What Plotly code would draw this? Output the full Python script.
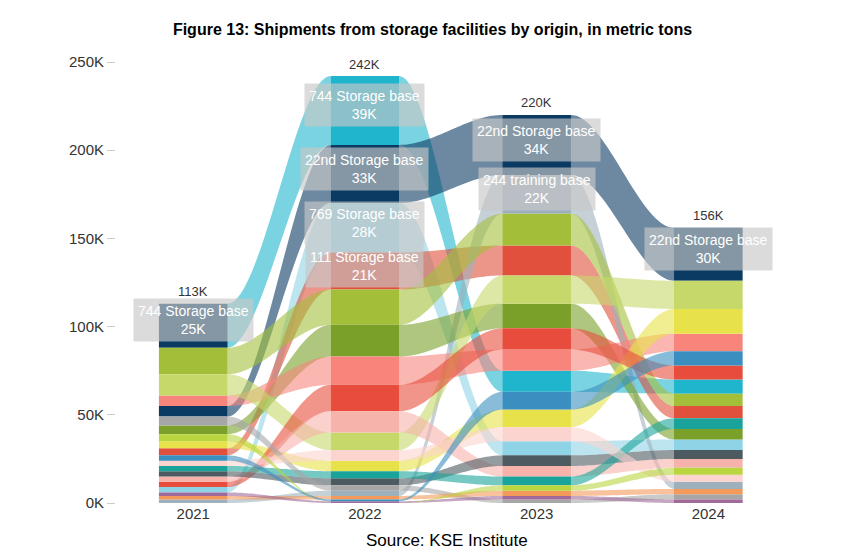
import plotly.graph_objects as go
import numpy as np

years = ["2021", "2022", "2023", "2024"]
totals_labels = ["113K", "242K", "220K", "156K"]
names = ["744 Storage base", "22nd Storage base", "769 Storage base", "111 Storage base",
         "244 training base", "Base F", "Base G", "Base H", "Base I", "Base J", "Base K",
         "Base L", "Base M", "Base N", "Base O", "Base P", "Base Q", "Base R", "Base S", "Base T"]
colors = ["#1fb5cc", "#0b3a63", "#8fd3e6", "#e0503c", "#9fb0bd", "#a3bf3a", "#7aa02a",
          "#f7857c", "#c6d86a", "#e8e24a", "#e74c3c", "#f6b3ab", "#4d5a60", "#1aa39a",
          "#a6a6a6", "#fbd3cf", "#f39a5b", "#a06a9a", "#3a8fc0", "#b9d53f"]
v2021 = [25, 6, 3, 4, 2, 15, 5, 6, 12, 4, 3, 3, 3, 3, 5, 3, 2, 2, 3, 4]
v2022 = [39, 33, 28, 21, 3, 20, 18, 16, 10, 6, 15, 12, 4, 4, 3, 6, 2, 1, 1, 0]
v2023 = [12, 34, 8, 17, 22, 18, 14, 12, 16, 10, 12, 6, 6, 5, 2, 8, 3, 2, 10, 3]
v2024 = [8, 30, 6, 7, 4, 7, 6, 10, 16, 14, 8, 5, 5, 6, 3, 4, 3, 2, 8, 4]
values = [v2021, v2022, v2023, v2024]
labelled = {0: [0], 1: [0, 1, 2, 3], 2: [1, 4], 3: [1]}
bar_colors_2021_top = "#0b3a63"

HW = 0.2
n = len(names)
seg = []
for vals in values:
    order = sorted(range(n), key=lambda i: vals[i])
    pos = {}
    base = 0
    for i in order:
        pos[i] = (base, base + vals[i])
        base += vals[i]
    seg.append(pos)

fig = go.Figure()
t = np.linspace(0, 1, 40)
s = t * t * (3 - 2 * t)
for yi in range(3):
    for i in range(n):
        a0, a1 = seg[yi][i]
        b0, b1 = seg[yi + 1][i]
        if a1 - a0 <= 0 and b1 - b0 <= 0:
            continue
        x = yi + HW + t * (1 - 2 * HW)
        lo = a0 + (b0 - a0) * s
        hi = a1 + (b1 - a1) * s
        fig.add_trace(go.Scatter(x=np.concatenate([x, x[::-1]]), y=np.concatenate([hi, lo[::-1]]),
                                 fill="toself", fillcolor=colors[i], opacity=0.6, mode="none",
                                 hoverinfo="skip", showlegend=False))
for yi in range(4):
    for i in range(n):
        a0, a1 = seg[yi][i]
        if a1 - a0 <= 0:
            continue
        c = bar_colors_2021_top if (yi == 0 and i == 0) else colors[i]
        fig.add_trace(go.Scatter(x=[yi - HW, yi + HW, yi + HW, yi - HW, yi - HW], y=[a0, a0, a1, a1, a0],
                                 fill="toself", fillcolor=c, mode="none",
                                 line=dict(width=0), hoverinfo="skip", showlegend=False))
    fig.add_annotation(x=yi, y=sum(values[yi]), text=totals_labels[yi], showarrow=False,
                       yshift=12, font=dict(size=13, color="#333"))
    for i in labelled[yi]:
        a0, a1 = seg[yi][i]
        fig.add_annotation(x=yi, y=(a0 + a1) / 2 + 3, text=f"{names[i]}<br>{values[yi][i]}K",
                           showarrow=False, bgcolor="rgba(200,200,200,0.65)", borderpad=4,
                           font=dict(size=14, color="white", family="Liberation Sans"))

fig.update_layout(
    width=849, height=555, paper_bgcolor="white", plot_bgcolor="white",
    margin=dict(l=108, r=80, t=54, b=60),
    title=dict(text="<b>Figure 13: Shipments from storage facilities by origin, in metric tons</b>",
               x=0.5, y=0.972, font=dict(size=16, color="black", family="Liberation Sans")),
    font=dict(family="Liberation Sans", size=15, color="#333"),
    xaxis=dict(range=[-0.45, 3.4], tickvals=[0, 1, 2, 3], ticktext=years, showgrid=False,
               zeroline=False, showline=False),
    yaxis=dict(range=[0, 250], tickvals=[0, 50, 100, 150, 200, 250],
               ticktext=["0K", "50K", "100K", "150K", "200K", "250K"], showgrid=False,
               zeroline=False, ticks="outside", ticklen=8, tickcolor="#ccc"),
)
fig.add_annotation(x=0.5, y=-0.11, xref="paper", yref="paper", text="Source: KSE Institute",
                   showarrow=False, font=dict(size=17, color="black"))
fig.write_html("out.html")
